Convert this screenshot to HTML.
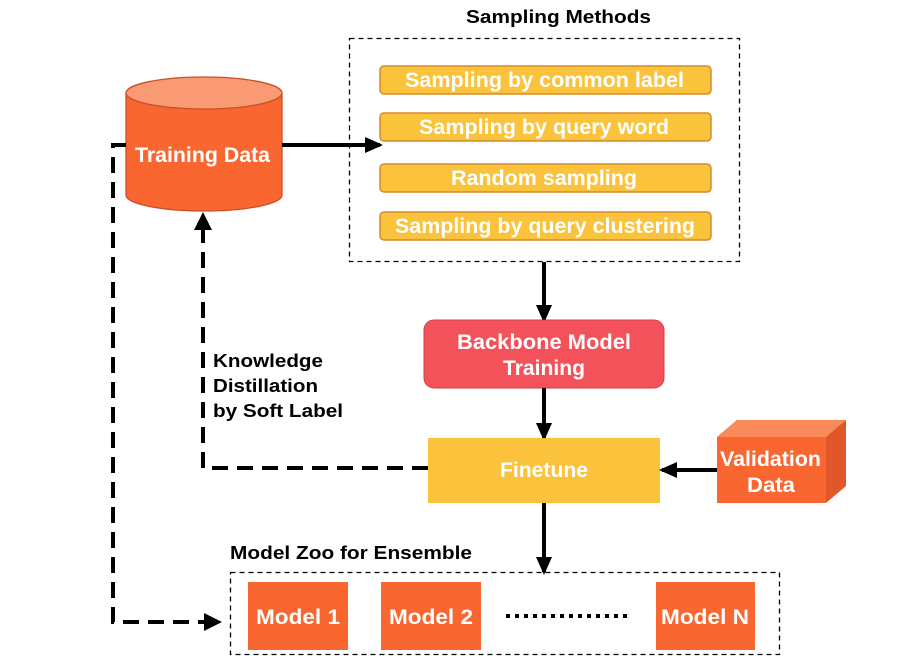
<!DOCTYPE html>
<html><head><style>
body{margin:0;background:#fff;width:913px;height:663px;overflow:hidden}
svg text{font-family:"Liberation Sans",sans-serif;font-weight:bold}
</style></head><body>
<svg width="913" height="663" viewBox="0 0 913 663" xmlns="http://www.w3.org/2000/svg">
<defs>
<marker id="b" markerWidth="18" markerHeight="18" refX="15" refY="9" orient="auto" markerUnits="userSpaceOnUse"><path d="M0,1 L18,9 L0,17 z" fill="#000"/></marker>
</defs>
<text x="466" y="23" font-size="18" textLength="185" lengthAdjust="spacingAndGlyphs">Sampling Methods</text>
<rect x="349.5" y="38.5" width="390" height="223" fill="none" stroke="#000" stroke-width="1.3" stroke-dasharray="5,4"/>
<g fill="#fbc23b" stroke="#d68a2a" stroke-width="1.5">
<rect x="380" y="66" width="331" height="28" rx="4"/>
<rect x="380" y="113" width="331" height="28" rx="4"/>
<rect x="380" y="164" width="331" height="28" rx="4"/>
<rect x="380" y="212" width="331" height="28" rx="4"/>
</g>
<g fill="#fff" font-size="21" lengthAdjust="spacingAndGlyphs">
<text x="405" y="87" textLength="279" lengthAdjust="spacingAndGlyphs">Sampling by common label</text>
<text x="419" y="134" textLength="250" lengthAdjust="spacingAndGlyphs">Sampling by query word</text>
<text x="451" y="185" textLength="186" lengthAdjust="spacingAndGlyphs">Random sampling</text>
<text x="395" y="233" textLength="300" lengthAdjust="spacingAndGlyphs">Sampling by query clustering</text>
</g>
<path d="M126,93 L126,195 A78,16 0 0 0 282,195 L282,93" fill="#f96630" stroke="#c9502a" stroke-width="1.3"/>
<ellipse cx="204" cy="93" rx="78" ry="16" fill="#f99a72" stroke="#c9502a" stroke-width="1.3"/>
<text x="135" y="162" font-size="21" fill="#fff" textLength="135" lengthAdjust="spacingAndGlyphs">Training Data</text>
<line x1="282" y1="145" x2="380" y2="145" stroke="#000" stroke-width="4" marker-end="url(#b)"/>
<line x1="544" y1="262" x2="544" y2="320" stroke="#000" stroke-width="4" marker-end="url(#b)"/>
<rect x="424" y="320" width="240" height="68" rx="10" fill="#f4525a" stroke="#d53e46" stroke-width="1"/>
<text x="457" y="349" font-size="21" fill="#fff" textLength="174" lengthAdjust="spacingAndGlyphs">Backbone Model</text>
<text x="503" y="375" font-size="21" fill="#fff" textLength="82" lengthAdjust="spacingAndGlyphs">Training</text>
<line x1="544" y1="388" x2="544" y2="438" stroke="#000" stroke-width="4" marker-end="url(#b)"/>
<rect x="428" y="438" width="232" height="65" fill="#fbc23b"/>
<text x="500" y="477" font-size="21" fill="#fff" textLength="88" lengthAdjust="spacingAndGlyphs">Finetune</text>
<path d="M717,437 L737,420 L846,420 L846,486 L826,503 L826,437 z" fill="#e0582a"/>
<path d="M717,437 L737,420 L846,420 L826,437 z" fill="#fb8a5a"/>
<rect x="717" y="437" width="109" height="66" fill="#f96630"/>
<text x="720" y="466" font-size="21" fill="#fff" textLength="101" lengthAdjust="spacingAndGlyphs">Validation</text>
<text x="747" y="492" font-size="21" fill="#fff" textLength="48" lengthAdjust="spacingAndGlyphs">Data</text>
<line x1="717" y1="470" x2="662" y2="470" stroke="#000" stroke-width="4" marker-end="url(#b)"/>
<polyline points="428,468 203,468 203,226" fill="none" stroke="#000" stroke-width="4" stroke-dasharray="16,9"/>
<path d="M194,230 L203,212 L212,230 z" fill="#000"/>
<text x="213" y="367" font-size="18" textLength="110" lengthAdjust="spacingAndGlyphs">Knowledge</text>
<text x="213" y="392" font-size="18" textLength="105" lengthAdjust="spacingAndGlyphs">Distillation</text>
<text x="213" y="417" font-size="18" textLength="130" lengthAdjust="spacingAndGlyphs">by Soft Label</text>
<line x1="544" y1="503" x2="544" y2="572" stroke="#000" stroke-width="4" marker-end="url(#b)"/>
<text x="230" y="559" font-size="18" textLength="242" lengthAdjust="spacingAndGlyphs">Model Zoo for Ensemble</text>
<rect x="230.5" y="572.5" width="549" height="82" fill="none" stroke="#000" stroke-width="1.3" stroke-dasharray="5,4"/>
<g fill="#f96630">
<rect x="248" y="582" width="100" height="68"/>
<rect x="381" y="582" width="100" height="68"/>
<rect x="656" y="582" width="99" height="68"/>
</g>
<g fill="#fff" font-size="21">
<text x="256" y="624" textLength="84" lengthAdjust="spacingAndGlyphs">Model 1</text>
<text x="389" y="624" textLength="84" lengthAdjust="spacingAndGlyphs">Model 2</text>
<text x="661" y="624" textLength="88" lengthAdjust="spacingAndGlyphs">Model N</text>
</g>
<line x1="506" y1="616" x2="630" y2="616" stroke="#000" stroke-width="4" stroke-dasharray="4,5"/>
<polyline points="126,145 113,145 113,622 206,622" fill="none" stroke="#000" stroke-width="4" stroke-dasharray="16,9"/>
<path d="M204,613 L222,622 L204,631 z" fill="#000"/>
</svg>
</body></html>
